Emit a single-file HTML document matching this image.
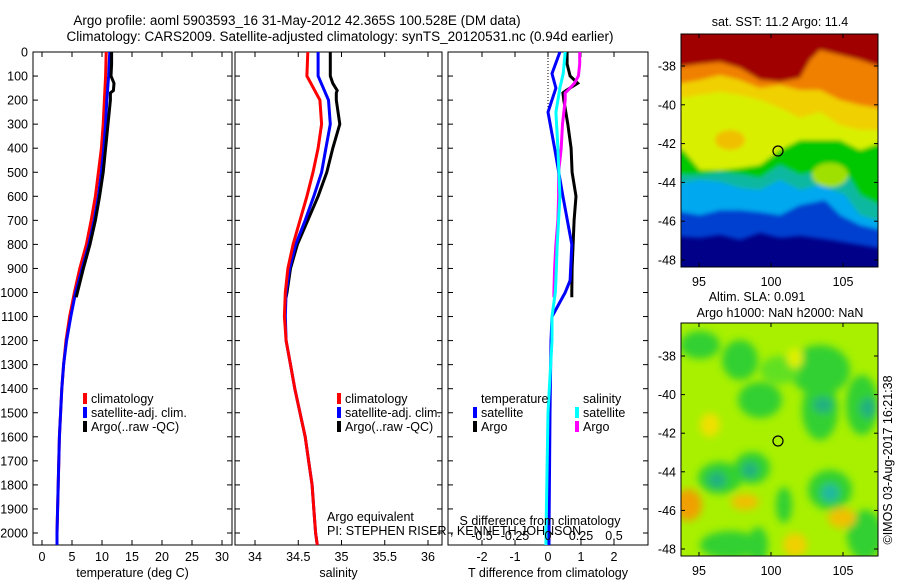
<!DOCTYPE html>
<html><head><meta charset="utf-8"><style>
body{margin:0;background:#fff;}
svg{display:block;font-family:"Liberation Sans",sans-serif;}
</style></head><body>
<svg id="fig" width="900" height="580" viewBox="0 0 900 580">
<defs>
<filter id="blur4" x="-20%" y="-20%" width="140%" height="140%"><feGaussianBlur stdDeviation="4"/></filter>
<filter id="blur2"><feGaussianBlur stdDeviation="2"/></filter>
<clipPath id="clipA"><rect x="681" y="34" width="197" height="233"/></clipPath>
<clipPath id="clipB"><rect x="681" y="323" width="197" height="233"/></clipPath>
</defs>
<text x="297" y="25" font-size="13.5" text-anchor="middle">Argo profile: aoml 5903593_16 31-May-2012 42.365S 100.528E (DM data)</text>
<text x="340" y="41" font-size="13.5" text-anchor="middle">Climatology: CARS2009. Satellite-adjusted climatology: synTS_20120531.nc (0.94d earlier)</text>

<!-- SST map -->
<g clip-path="url(#clipA)">
<rect x="681" y="34" width="197" height="233" fill="#000088"/>
<g filter="url(#blur2)">
<path d="M670,30 H890 V250 L860,245 L830,240 L800,236 L780,238 L760,233 L740,240 L720,235 L700,238 L670,236Z" fill="#0040d0"/>
<path d="M670,30 H890 V232 L860,225 L840,215 L825,200 L800,205 L780,215 L760,212 L740,210 L720,210 L700,215 L670,210Z" fill="#00a8f0"/>
<path d="M670,30 H890 V225 L860,215 L845,195 L820,185 L800,190 L780,180 L760,190 L740,188 L720,182 L700,180 L670,185Z" fill="#10b8a0"/>
<path d="M670,30 H890 V210 L860,195 L845,170 L825,170 L800,175 L780,165 L760,178 L745,175 L720,172 L700,175 L670,175Z" fill="#00c800"/>
<path d="M670,30 H890 V140 L860,150 L840,140 L820,140 L800,140 L780,150 L760,165 L740,168 L720,170 L700,170 L683,150 L670,150Z" fill="#d8f000"/>
<path d="M670,30 H890 V130 L860,130 L840,125 L820,112 L800,118 L780,108 L760,100 L740,95 L720,92 L700,95 L670,100Z" fill="#f0d000"/>
<path d="M670,30 H890 V110 L860,105 L840,100 L820,90 L800,90 L780,85 L760,88 L740,80 L720,75 L700,80 L670,85Z" fill="#f08000"/>
<path d="M670,30 H890 V70 L860,60 L840,55 L820,50 L810,60 L800,78 L780,82 L760,80 L740,68 L720,62 L700,64 L670,68Z" fill="#a00000"/>
<ellipse cx="730" cy="140" rx="15" ry="10" fill="#f0c000"/>
<ellipse cx="830" cy="175" rx="18" ry="12" fill="#a0e000"/>
</g>
</g>
<rect x="681" y="34" width="197" height="233" fill="none" stroke="#000"/>
<circle cx="778" cy="151" r="5" fill="none" stroke="#000" stroke-width="1.2"/>
<text x="780" y="26" font-size="12.5" text-anchor="middle">sat. SST: 11.2 Argo: 11.4</text>

<!-- SLA map -->
<g clip-path="url(#clipB)">
<rect x="681" y="323" width="197" height="233" fill="#a8f000"/>
<g filter="url(#blur4)">
<ellipse cx="700" cy="345" rx="20" ry="14" fill="#30d030"/>
<ellipse cx="740" cy="360" rx="18" ry="20" fill="#30d030"/>
<ellipse cx="820" cy="370" rx="30" ry="25" fill="#30d030"/>
<ellipse cx="780" cy="370" rx="20" ry="14" fill="#60e020"/>
<ellipse cx="760" cy="400" rx="22" ry="18" fill="#30d030"/>
<ellipse cx="820" cy="410" rx="18" ry="30" fill="#30d030"/>
<ellipse cx="862" cy="405" rx="16" ry="30" fill="#30d030"/>
<ellipse cx="823" cy="405" rx="10" ry="8" fill="#20b080"/>
<ellipse cx="868" cy="408" rx="8" ry="10" fill="#20b080"/>
<ellipse cx="720" cy="478" rx="22" ry="16" fill="#30d030"/>
<ellipse cx="752" cy="468" rx="18" ry="16" fill="#30d030"/>
<ellipse cx="717" cy="480" rx="9" ry="8" fill="#20b080"/>
<ellipse cx="750" cy="470" rx="8" ry="8" fill="#20b080"/>
<ellipse cx="830" cy="490" rx="22" ry="20" fill="#30d030"/>
<ellipse cx="830" cy="493" rx="9" ry="9" fill="#20b8a0"/>
<ellipse cx="784" cy="505" rx="8" ry="18" fill="#30d030"/>
<ellipse cx="730" cy="545" rx="30" ry="14" fill="#30d030"/>
<ellipse cx="865" cy="535" rx="18" ry="25" fill="#30d030"/>
<ellipse cx="758" cy="545" rx="10" ry="18" fill="#30d030"/>
<ellipse cx="688" cy="505" rx="14" ry="16" fill="#f0a000"/>
<ellipse cx="745" cy="502" rx="14" ry="8" fill="#f0c000"/>
<ellipse cx="842" cy="518" rx="14" ry="10" fill="#f0c000"/>
<ellipse cx="710" cy="425" rx="10" ry="12" fill="#f0e000"/>
<ellipse cx="795" cy="545" rx="12" ry="12" fill="#f0d000"/>
<ellipse cx="795" cy="358" rx="8" ry="10" fill="#e0f000"/>
</g>
</g>
<rect x="681" y="323" width="197" height="233" fill="none" stroke="#000"/>
<circle cx="778" cy="441" r="5" fill="none" stroke="#000" stroke-width="1.2"/>
<text x="757" y="301" font-size="12.5" text-anchor="middle">Altim. SLA: 0.091</text>
<text x="780" y="317" font-size="12.5" text-anchor="middle">Argo h1000: NaN h2000: NaN</text>
<text transform="translate(892,460) rotate(-90)" font-size="12.5" text-anchor="middle">©IMOS 03-Aug-2017 16:21:38</text>

<g id="plots"></g>
</svg>
<script>
// depth axis
const depthTicks=[0,100,200,300,400,500,600,700,800,900,1000,1100,1200,1300,1400,1500,1600,1700,1800,1900,2000];
// temperature panel
const tempTicks=[0,5,10,15,20,25,30];
const climDepthT=[0,100,200,300,400,500,600,700,800,900,1000,1100,1200,1300,1400,1500,1600,1700,1800,1900,2000,2050];
const climTemp=[10.7,10.6,10.4,10.2,9.9,9.4,8.9,8.2,7.4,6.3,5.4,4.6,4.0,3.6,3.3,3.1,2.9,2.8,2.7,2.6,2.5,2.5];
const satTemp=[11.3,11.1,10.8,10.6,10.3,9.9,9.4,8.7,7.8,6.7,5.6,4.8,4.1,3.6,3.3,3.1,2.9,2.8,2.7,2.6,2.5,2.5];
const argoDepthT=[0,50,100,130,160,170,200,300,400,500,600,700,800,900,1000,1020];
const argoTemp=[11.6,11.6,11.5,12.0,11.9,11.4,11.4,11.0,10.6,10.2,9.6,8.9,8.0,6.9,5.9,5.7];
// salinity panel
const salTicks=[34,34.5,35,35.5,36];
const climSal=[34.61,34.60,34.75,34.77,34.73,34.67,34.60,34.52,34.44,34.38,34.35,34.34,34.36,34.41,34.46,34.52,34.58,34.62,34.66,34.68,34.70,34.72];
const satSal=[34.73,34.73,34.85,34.87,34.82,34.77,34.68,34.58,34.47,34.40,34.36,34.35,34.36,34.41,34.46,34.52,34.58,34.62,34.66,34.68,34.70,34.72];
const argoSal=[34.87,34.87,34.87,34.90,34.95,34.94,34.94,34.98,34.90,34.83,34.73,34.61,34.49,34.41,34.37,34.36];
// difference panel
const tDiffTicks=[-2,-1,0,1,2];
const sDiffTicks=[-0.5,-0.25,0,0.25,0.5];
const sDiffTickLabels=["-0.5","-0.25","0","0.25","0.5"];
const diffDepthSat=[0,90,150,250,400,600,800,950,1000,1100,1200,1500,2000,2050];
const satTDiff=[0.36,0.12,0.24,0.0,0.2,0.45,0.72,0.67,0.52,0.12,0.09,0.06,0.03,0.03];
const satSDiff=[0.13,0.115,0.09,0.06,0.075,0.09,0.07,0.06,0.055,0.03,0.03,0.0,-0.015,-0.015];
const argoTDiff=[0.58,0.58,0.67,0.9,0.55,0.45,0.48,0.6,0.7,0.73,0.85,0.79,0.76,0.73,0.72,0.72];
const argoSDiff=[0.24,0.24,0.23,0.2,0.15,0.13,0.13,0.11,0.10,0.08,0.08,0.075,0.06,0.05,0.045,0.045];

const NS="http://www.w3.org/2000/svg";
const root=document.getElementById('plots');
function el(tag,attrs,parent,txt){const e=document.createElementNS(NS,tag);for(const k in attrs)e.setAttribute(k,attrs[k]);if(txt!==undefined)e.textContent=txt;(parent||root).appendChild(e);return e;}
const Y0=52,PPD=0.2405,YB=545;
const yD=d=>Y0+d*PPD;

function panel(name,x0,x1,xs,ticks,labels,title,showY){
  const g=el('g',{});
  
  
  const fr=el('rect',{x:x0,y:Y0,width:x1-x0,height:YB-Y0,fill:'none',stroke:'#000'},g);
  
  
  depthTicks.forEach(d=>{const y=yD(d);
    el('line',{x1:x0,x2:x0+5,y1:y,y2:y,stroke:'#000'},g);
    el('line',{x1:x1,x2:x1-5,y1:y,y2:y,stroke:'#000'},g);
    if(showY){const t=el('text',{x:x0-5,y:y+4.5,'font-size':12.5,'text-anchor':'end'},g,String(d));
      
      }
  });
  ticks.forEach((v,i)=>{const x=xs(v);
    el('line',{x1:x,x2:x,y1:YB,y2:YB-5,stroke:'#000'},g);
    el('line',{x1:x,x2:x,y1:Y0,y2:Y0+5,stroke:'#000'},g);
    if(labels){const t=el('text',{x:x,y:561,'font-size':12.5,'text-anchor':'middle'},g,labels[i]);
      
      }
  });
  const tt=el('text',{x:(x0+x1)/2,y:577,'font-size':12.5,'text-anchor':'middle'},g,title);
  
  
  return g;
}
function line(g,xs,vals,depths,color,name){
  const pts=vals.map((v,i)=>xs(v).toFixed(1)+','+yD(depths[i]).toFixed(1)).join(' ');
  const p=el('polyline',{points:pts,fill:'none',stroke:color,'stroke-width':3},g);
  
  
}
function legend(g,x,y,color,text,name){
  if(color){const r=el('rect',{x:x,y:y-10,width:4,height:11,fill:color},g);
    
    }
  const t=el('text',{x:x+(color?8:0),y:y,'font-size':12.5},g,text);
  
  
}
// Temperature
const xT=v=>42+v*6;
const gT=panel('temperature',33,232,xT,tempTicks,tempTicks.map(String),'temperature (deg C)',true);
line(gT,xT,climTemp,climDepthT,'#ff0000','temp-climatology-line');
line(gT,xT,satTemp,climDepthT,'#0000ff','temp-satellite-line');
line(gT,xT,argoTemp,argoDepthT,'#000000','temp-argo-line');
legend(gT,83,403,'#ff0000','climatology','legend-climatology');
legend(gT,83,417,'#0000ff','satellite-adj. clim.','legend-satellite');
legend(gT,83,431,'#000000','Argo(..raw -QC)','legend-argo');
// Salinity
const xS=v=>255+(v-34)*86.5;
const gS=panel('salinity',235,442,xS,salTicks,salTicks.map(String),'salinity',false);
line(gS,xS,argoSal,argoDepthT,'#000000','sal-argo-line');
line(gS,xS,satSal,climDepthT,'#0000ff','sal-satellite-line');
line(gS,xS,climSal,climDepthT,'#ff0000','sal-climatology-line');
legend(gS,337,403,'#ff0000','climatology','legend-sal-climatology');
legend(gS,337,417,'#0000ff','satellite-adj. clim.','legend-sal-satellite');
legend(gS,337,431,'#000000','Argo(..raw -QC)','legend-sal-argo');
legend(gS,327,521,null,'Argo equivalent','argo-equivalent-note');
legend(gS,327,535,null,'PI: STEPHEN RISER , KENNETH JOHNSON','pi-note');
// Difference
const xTD=v=>548+v*33;
const xSD=v=>548+v*132;
const gD=panel('difference',448,648,xTD,tDiffTicks,tDiffTicks.map(String),'T difference from climatology',false);
const z=el('line',{x1:548,x2:548,y1:Y0,y2:110,stroke:'#000','stroke-dasharray':'1,2'},gD);


line(gD,xTD,argoTDiff,argoDepthT,'#000000','t-diff-argo-line');
line(gD,xSD,argoSDiff,argoDepthT,'#ff00ff','s-diff-argo-line');
line(gD,xTD,satTDiff,diffDepthSat,'#0000ff','t-diff-satellite-line');
line(gD,xSD,satSDiff,diffDepthSat,'#00ffff','s-diff-satellite-line');
sDiffTicks.forEach((v,i)=>{const t=el('text',{x:xSD(v),y:540,'font-size':12.5,'text-anchor':'middle'},gD,sDiffTickLabels[i]);
  
  });
const st=el('text',{x:540,y:525,'font-size':12.5,'text-anchor':'middle'},gD,'S difference from climatology');


legend(gD,481,403,null,'temperature','legend-temperature-header');
legend(gD,473,417,'#0000ff','satellite','legend-t-satellite');
legend(gD,473,431,'#000000','Argo','legend-t-argo');
legend(gD,583,403,null,'salinity','legend-salinity-header');
legend(gD,575,417,'#00ffff','satellite','legend-s-satellite');
legend(gD,575,431,'#ff00ff','Argo','legend-s-argo');
// map axes
const latTicks=[-38,-40,-42,-44,-46,-48];
const lonTicks=[95,100,105];
function mapAxes(top,lat0y,ppLat,labY,name){
  const g=el('g',{});
  
  
  latTicks.forEach(l=>{const y=lat0y+(-38-l)*ppLat;
    el('line',{x1:681,x2:685,y1:y,y2:y,stroke:'#000'},g);
    el('line',{x1:878,x2:874,y1:y,y2:y,stroke:'#000'},g);
    const t=el('text',{x:676,y:y+4.5,'font-size':12.5,'text-anchor':'end'},g,String(l));
    
    });
  lonTicks.forEach(l=>{const x=699+(l-95)*14.4;
    el('line',{x1:x,x2:x,y1:top,y2:top+4,stroke:'#000'},g);
    el('line',{x1:x,x2:x,y1:top+233,y2:top+229,stroke:'#000'},g);
    const t=el('text',{x:x,y:labY,'font-size':12.5,'text-anchor':'middle'},g,String(l));
    
    });
}
mapAxes(34,66,19.4,286,'sst-map');
mapAxes(323,356,19.3,575,'sla-map');
</script>
</body></html>
